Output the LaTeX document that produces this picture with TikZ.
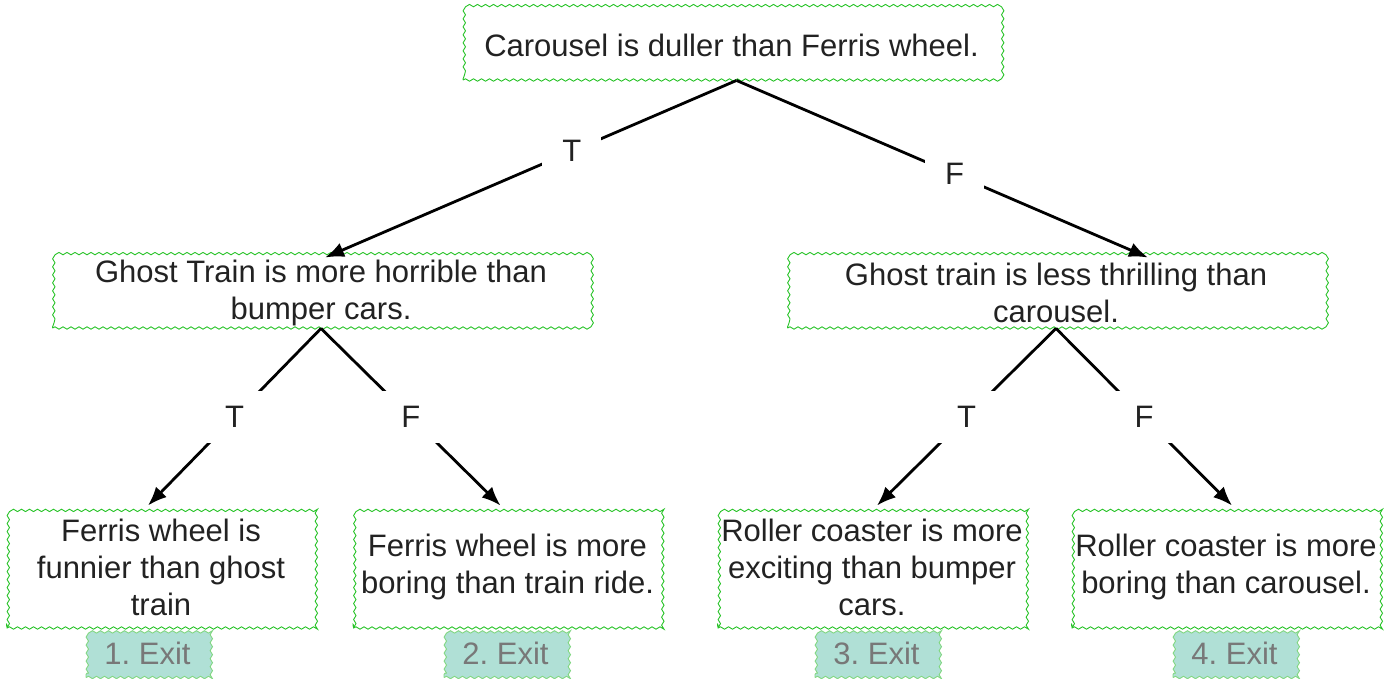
\documentclass[tikz,border=0pt]{standalone}
\usepackage{fontspec}
\setmainfont{Liberation Sans}
\frenchspacing
\usetikzlibrary{decorations.pathmorphing,arrows.meta}
\definecolor{boxgreen}{RGB}{40,195,40}
\definecolor{exitgreen}{RGB}{130,215,130}
\definecolor{exitfill}{RGB}{176,224,214}
\definecolor{txtdark}{RGB}{34,34,34}
\definecolor{txtgray}{RGB}{120,120,120}

\begin{document}
\begin{tikzpicture}[x=1pt,y=-1pt]

%
% Styles
%
\tikzstyle{question} = [draw=boxgreen,fill=white,line width=0.9pt,decorate,decoration={snake,segment length=8pt,amplitude=1.2pt},
                        inner sep=0pt,align=center,text=txtdark,font=\fontsize{31}{37}\selectfont]
\tikzstyle{wide}     = [question,minimum width=537pt,minimum height=70pt]
\tikzstyle{leaf}     = [question,minimum width=308pt,minimum height=122pt]
\tikzstyle{exit}     = [draw=exitgreen,fill=exitfill,line width=0.9pt,decorate,decoration={snake,segment length=8pt,amplitude=1.2pt},
                        minimum width=123pt,minimum height=49pt,inner sep=0pt,text=txtgray,font=\fontsize{31}{37}\selectfont]
\tikzstyle{lbl}      = [fill=white,inner xsep=20pt,inner ysep=15pt,text=txtdark,font=\fontsize{31}{37}\selectfont]

\tikzstyle{edge}     = [-{Latex[length=19pt,width=15pt]},line width=2.8pt]

\useasboundingbox (0,0) rectangle (1397,678);

\node[exit]     (ex1)  at ( 147.5, 653) {1. Exit};
\node[exit]     (ex2)  at ( 505.5, 653) {2. Exit};
\node[exit]     (ex3)  at ( 876.5, 653) {3. Exit};
\node[exit]     (ex4)  at (1234.5, 653) {4. Exit};

\node[wide]     (root) at ( 731.5,  45) {Carousel is duller than Ferris wheel.};
\node[wide]     (ghl)  at ( 321,   293) {Ghost Train is more horrible than\\bumper cars.};
\node[wide]     (ghr)  at (1056,   293) {Ghost train is less thrilling than\\carousel.};

\node[leaf]     (ff)   at ( 161,   567) {Ferris wheel is\\funnier than ghost\\train};
\node[leaf]     (fb)   at ( 507.5, 567) {Ferris wheel is more\\boring than train ride.};
\node[leaf]     (rx)   at ( 872,   567) {Roller coaster is more\\exciting than bumper\\cars.};
\node[leaf]     (rb)   at (1226,   567) {Roller coaster is more\\boring than carousel.};

\draw[edge] ([xshift=5pt]root.south) -- node[lbl,pos=0.4]  {T} ([xshift=4pt]ghl.north);
\draw[edge] ([xshift=5pt]root.south) -- node[lbl,pos=0.53] {F} ([xshift=92pt]ghr.north);
\draw[edge] (ghl.south) -- node[lbl] {T} ([xshift=-13pt]ff.north);
\draw[edge] (ghl.south) -- node[lbl] {F} ([xshift=-7pt]fb.north);
\draw[edge] (ghr.south) -- node[lbl] {T} ([xshift=5pt]rx.north);
\draw[edge] (ghr.south) -- node[lbl] {F} ([xshift=6pt]rb.north);

\end{tikzpicture}
\end{document}
